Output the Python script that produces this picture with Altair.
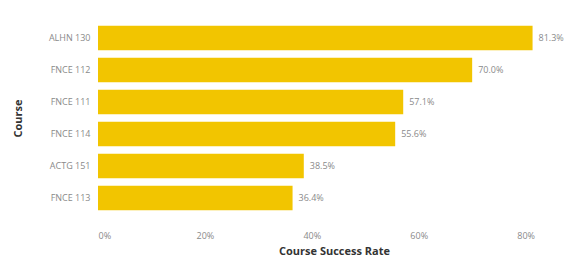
import altair as alt
import pandas as pd

courses = ["ALHN 130", "FNCE 112", "FNCE 111", "FNCE 114", "ACTG 151", "FNCE 113"]
rates = [0.813, 0.700, 0.571, 0.556, 0.385, 0.364]
labels = ["81.3%", "70.0%", "57.1%", "55.6%", "38.5%", "36.4%"]

df = pd.DataFrame({"Course": courses, "Rate": rates, "Label": labels})

FONT = "Open Sans"
W, H = 449, 192

x = alt.X("Rate:Q", title="Course Success Rate",
          scale=alt.Scale(domain=[0, 0.84], nice=False),
          axis=alt.Axis(format=".0%", values=[0, 0.2, 0.4, 0.6, 0.8], grid=False,
                        domain=False, ticks=False, labelPadding=17,
                        labelFontSize=9, labelColor="#8a8a8a", labelFont=FONT,
                        titleFont=FONT, titleFontSize=11, titleFontWeight="bold",
                        titleColor="#333333", titleX=236, titleY=37,
                        titleBaseline="middle"))
y = alt.Y("Course:N", sort=courses, title="Course",
          scale=alt.Scale(paddingInner=0.23, paddingOuter=0.115),
          axis=alt.Axis(grid=False, domain=False, ticks=False, labelPadding=8,
                        labelFontSize=9, labelColor="#8a8a8a", labelFont=FONT,
                        titleFont=FONT, titleFontSize=11, titleFontWeight="bold",
                        titleColor="#333333", titleX=-80, titleY=96,
                        titleBaseline="middle"))

bars = alt.Chart(df).mark_bar(color="#F2C500").encode(x=x, y=y)
text = alt.Chart(df).mark_text(align="left", dx=6, baseline="middle", font=FONT,
                               fontSize=9, color="#8a8a8a").encode(
    x="Rate:Q", y=alt.Y("Course:N", sort=courses), text="Label:N")

chart = (bars + text).properties(
    width=W, height=H,
    background="white",
    autosize=alt.AutoSizeParams(type="none"),
    padding={"left": 90, "top": 14, "right": 17, "bottom": 44},
).configure_view(stroke=None)

chart.save("out.html", embed_options={"renderer": "svg", "actions": False})
